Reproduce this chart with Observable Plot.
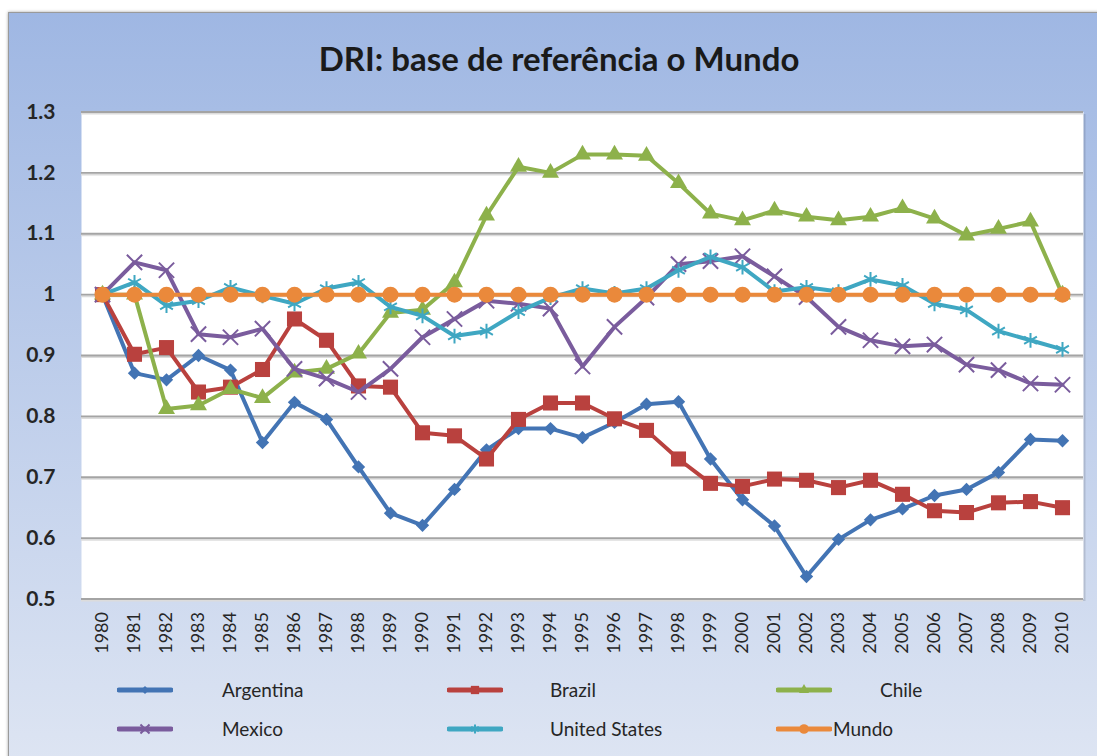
<!DOCTYPE html>
<html><head><meta charset="utf-8">
<script src="https://cdn.jsdelivr.net/npm/d3@7"></script>
<script src="https://cdn.jsdelivr.net/npm/@observablehq/plot@0.6"></script>
<style>
body{margin:0;background:#fff;width:1097px;height:756px;overflow:hidden;position:relative;font-family:Lato,"DejaVu Sans",sans-serif;}
#panel{position:absolute;left:8px;top:12px;width:1110px;height:770px;border:1px solid #9a9a9a;background:linear-gradient(#9fb7e3,#dfe6f3);box-shadow:0 0 3px rgba(0,0,0,.35);}
#title{position:absolute;left:0;width:1118px;top:37px;text-align:center;font-weight:bold;font-size:33px;line-height:42px;color:#1a1a1a;}
#chart{position:absolute;left:0;top:100px;}
.leg{position:absolute;height:20px;}
.leg svg{position:absolute;left:0;top:4px;}
.leg span{position:absolute;top:0;font-size:19px;line-height:20px;color:#262626;white-space:nowrap;}
</style></head><body>
<div id="panel"></div>
<div id="title">DRI: base de referência o Mundo</div>
<div id="chart"></div>
<div id="legend"></div>
<script>
const years = [1980,1981,1982,1983,1984,1985,1986,1987,1988,1989,1990,1991,1992,1993,1994,1995,1996,1997,1998,1999,2000,2001,2002,2003,2004,2005,2006,2007,2008,2009,2010];
const yTicks = [0.5,0.6,0.7,0.8,0.9,1.0,1.1,1.2,1.3];
const seriesNames = ["Argentina","Brazil","Chile","Mexico","United States","Mundo"];
const argentina = [1.0,0.871,0.86,0.90,0.876,0.757,0.823,0.795,0.717,0.641,0.621,0.68,0.745,0.78,0.78,0.765,0.79,0.82,0.824,0.73,0.663,0.62,0.537,0.598,0.63,0.648,0.67,0.68,0.708,0.762,0.76];
const brazil = [1.0,0.902,0.913,0.84,0.848,0.877,0.96,0.925,0.85,0.848,0.773,0.768,0.73,0.795,0.822,0.822,0.796,0.777,0.73,0.69,0.685,0.697,0.695,0.683,0.695,0.672,0.645,0.642,0.658,0.66,0.65];
const chile = [1.0,1.0,0.812,0.818,0.845,0.83,0.872,0.878,0.903,0.97,0.975,1.02,1.13,1.21,1.2,1.23,1.23,1.228,1.183,1.133,1.122,1.138,1.128,1.122,1.128,1.142,1.125,1.097,1.108,1.12,1.0];
const mexico = [1.0,1.053,1.04,0.935,0.93,0.944,0.878,0.862,0.84,0.878,0.93,0.96,0.99,0.985,0.977,0.882,0.947,0.995,1.05,1.055,1.063,1.03,0.996,0.947,0.925,0.915,0.918,0.885,0.876,0.854,0.852];
const unitedStates = [1.0,1.02,0.982,0.99,1.012,0.998,0.985,1.01,1.02,0.98,0.965,0.932,0.94,0.972,0.995,1.01,1.002,1.01,1.04,1.062,1.045,1.005,1.012,1.005,1.025,1.015,0.985,0.975,0.94,0.925,0.91];
const mundo = [1.0,1.0,1.0,1.0,1.0,1.0,1.0,1.0,1.0,1.0,1.0,1.0,1.0,1.0,1.0,1.0,1.0,1.0,1.0,1.0,1.0,1.0,1.0,1.0,1.0,1.0,1.0,1.0,1.0,1.0,1.0];
const seriesValues = [argentina, brazil, chile, mexico, unitedStates, mundo];

const colors = ["#4374b4","#b9413e","#8db14b","#7a5c9d","#3fa7c2","#ea893b"];
const symbols = ["diamond2","square","triangle","times","asterisk","circle"];
const filled = [true,true,true,false,false,true];
const radii = [6,8.5,6.3,7,7,8];

const data = [];
seriesNames.forEach((s,i)=>seriesValues[i].forEach((v,j)=>data.push({series:s,year:years[j],value:v})));

const marks = [
  Plot.frame({fill:"rgba(0,0,0,0.12)",dx:2,dy:2}),
  Plot.frame({fill:"white"}),
  Plot.ruleY(yTicks,{dy:1.5,stroke:"#dcdcdc",strokeWidth:2}),
  Plot.ruleY(yTicks,{stroke:"#a4a4a4",strokeWidth:1.8}),
  Plot.axisY({ticks:yTicks,label:null,tickSize:0,tickPadding:26,tickFormat:d3.format("~g"),fontSize:21,fill:"#262626",fontWeight:"bold"}),
  Plot.axisX({label:null,tickRotate:-90,tickSize:0,tickPadding:13,tickFormat:d=>String(d),fontSize:18,fill:"#262626"})
];
seriesNames.forEach((s,i)=>{
  const d = data.filter(r=>r.series===s);
  marks.push(Plot.line(d,{x:"year",y:"value",stroke:colors[i],strokeWidth:4,strokeLinejoin:"round"}));
  marks.push(Plot.dot(d,{x:"year",y:"value",symbol:symbols[i],r:radii[i],
    fill:filled[i]?colors[i]:"none",stroke:filled[i]?"none":colors[i],strokeWidth:2}));
});

const chart = Plot.plot({
  width:1097,height:580,
  marginTop:11.5,marginBottom:81.5,marginLeft:81,marginRight:14,
  style:{fontFamily:"Lato, sans-serif",background:"transparent",overflow:"visible"},
  x:{type:"point",domain:years,padding:0.5,axis:null,label:null},
  y:{domain:[0.5,1.3],axis:null,label:null},
  marks
});
document.getElementById("chart").appendChild(chart);

// legend
const legPos = [
  {x:117,y:690,lx:105},{x:447,y:690,lx:103},{x:776,y:690,lx:104},
  {x:117,y:729,lx:105},{x:447,y:729,lx:103},{x:776,y:729,lx:57}
];
const legScale = [0.6,0.55,0.6,0.6,0.6,0.6];
const leg = d3.select("#legend");
const symMap = {diamond2:d3.symbolDiamond2,square:d3.symbolSquare,triangle:d3.symbolTriangle,times:d3.symbolTimes,asterisk:d3.symbolAsterisk,circle:d3.symbolCircle};
seriesNames.forEach((s,i)=>{
  const p = legPos[i];
  const item = leg.append("div").attr("class","leg").style("left",p.x+"px").style("top",(p.y-10)+"px");
  const svg = item.append("svg").attr("width",56).attr("height",12);
  svg.append("line").attr("x1",2).attr("x2",54).attr("y1",6).attr("y2",6)
    .attr("stroke",colors[i]).attr("stroke-width",5).attr("stroke-linecap","round");
  const r = radii[i]*legScale[i];
  svg.append("path").attr("transform","translate(28,6)")
    .attr("d",d3.symbol(symMap[symbols[i]],Math.PI*r*r)())
    .attr("fill",filled[i]?colors[i]:"none").attr("stroke",filled[i]?"none":colors[i]).attr("stroke-width",2);
  item.append("span").style("left",p.lx+"px").text(s);
});
</script>
</body></html>
